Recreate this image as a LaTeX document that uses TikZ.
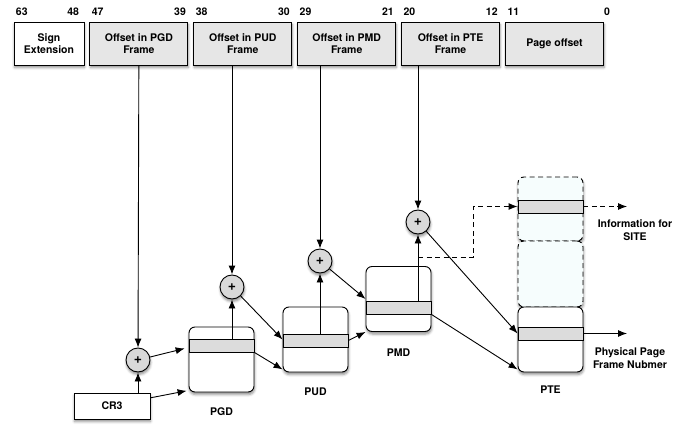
\documentclass[tikz,border=0pt]{standalone}
\usepackage{fontspec}
\setmainfont{TeX Gyre Heros}
\usetikzlibrary{arrows.meta, positioning, shadows.blur}

\definecolor{fieldgray}{HTML}{E6E6E6}
\definecolor{rowgray}{HTML}{DCDCDC}
\definecolor{addergray}{HTML}{D9D9D9}
\definecolor{sitefill}{HTML}{F6FDFD}

\begin{document}
\begin{tikzpicture}[
  x = 1pt, y = -1pt,
  line width = 0.9pt,
  >= {Latex[length = 9pt, width = 7pt]},
  font = \fontsize{10.5}{12.5}\selectfont\bfseries,
  softshadow/.style = {blur shadow = {shadow xshift = 0.5pt, shadow yshift = -2.5pt,
      shadow blur radius = 2.5pt, shadow opacity = 45}},
  field/.style = {draw, softshadow, fill = fieldgray, minimum width = 98pt,
      minimum height = 43pt, align = center, inner sep = 2pt},
  bit/.style = {inner sep = 2pt, yshift = 4pt},
  adder/.style = {draw, softshadow, circle, fill = addergray, minimum size = 24pt, inner sep = 0pt,
      font = \fontsize{14}{14}\selectfont\bfseries},
  register/.style = {draw, softshadow, fill = white, minimum width = 76pt, minimum height = 26pt},
  pagetable/.style = {draw, softshadow, rounded corners = 6pt, fill = white,
      minimum width = 65pt, minimum height = 65pt},
  siteblock/.style = {pagetable, dash pattern = on 5pt off 3.5pt, fill = sitefill},
  tablerow/.style = {draw, fill = rowgray, minimum width = 65pt, minimum height = 13pt, inner sep = 0pt},
  notelabel/.style = {align = center},
  ]

  \useasboundingbox (0, 0) rectangle (689, 428);

  % virtual address fields
  \node at (49, 43.5)
  [field, fill = white, minimum width = 70pt, name = sign] {Sign\\Extension};

  \node [field, right = 5pt of sign, name = pgdoff] {Offset in PGD\\Frame};

  \node [field, right = 5pt of pgdoff, name = pudoff] {Offset in PUD\\Frame};

  \node [field, right = 5pt of pudoff, name = pmdoff] {Offset in PMD\\Frame};

  \node [field, right = 5pt of pmdoff, name = pteoff] {Offset in PTE\\Frame};

  \node [field, right = 5pt of pteoff, name = pageoff] {Page offset};

  % bit numbers
  \node at (sign.north west) [bit, anchor = south west, name = b63] {63};
  \node at (sign.north east) [bit, anchor = south east, xshift = -3pt, name = b48] {48};
  \node at (pgdoff.north west) [bit, anchor = south west, name = b47] {47};
  \node at (pgdoff.north east) [bit, anchor = south east, name = b39] {39};
  \node at (pudoff.north west) [bit, anchor = south west, name = b38] {38};
  \node at (pudoff.north east) [bit, anchor = south east, name = b30] {30};
  \node at (pmdoff.north west) [bit, anchor = south west, name = b29] {29};
  \node at (pmdoff.north east) [bit, anchor = south east, name = b21] {21};
  \node at (pteoff.north west) [bit, anchor = south west, name = b20] {20};
  \node at (pteoff.north east) [bit, anchor = south east, name = b12] {12};
  \node at (pageoff.north west) [bit, anchor = south west, name = b11] {11};
  \node at (pageoff.north east) [bit, anchor = south, xshift = 3pt, name = b0] {0};

  % adders
  \node at (138, 360) [adder, name = add1] {+};

  \node at (232, 287) [adder, name = add2] {+};

  \node at (320, 261) [adder, name = add3] {+};

  \node at (418, 222) [adder, name = add4] {+};

  \node at (112, 406) [register, name = cr3] {CR3};

  % page tables
  \node at (221.5, 359.5) [pagetable, name = pgd] {};
  \node at ([yshift = 14pt] pgd.center) [tablerow, name = pgdrow] {};
  \node [below = 11pt of pgd, name = pgdname] {PGD};

  \node at (315.5, 339.5) [pagetable, name = pud] {};
  \node at ([yshift = -1pt] pud.center) [tablerow, name = pudrow] {};
  \node [below = 12pt of pud, name = pudname] {PUD};

  \node at (398.5, 299) [pagetable, name = pmd] {};
  \node at ([yshift = -8.5pt] pmd.center) [tablerow, name = pmdrow] {};
  \node [below = 13pt of pmd, name = pmdname] {PMD};

  \node at (550.5, 209) [siteblock, minimum height = 64pt, name = siteupper] {};
  \node at ([yshift = 2.5pt] siteupper.center) [tablerow, name = siterow] {};

  \node at (550.5, 274) [siteblock, minimum height = 66pt, name = sitelower] {};

  \node at (550.5, 339.5) [pagetable, name = pte] {};
  \node at ([yshift = 6pt] pte.center) [tablerow, name = pterow] {};
  \node [below = 10pt of pte, name = ptename] {PTE};

  % notes
  \node at (635, 230) [notelabel, name = sitenote] {Information for\\SITE};

  \node at (630, 358) [notelabel, name = ppnnote] {Physical Page\\Frame Nubmer};

  \coordinate (siteout) at (627, 206.5);
  \coordinate (ppnout) at (627, 333.5);
  \coordinate (branch) at (418, 257);
  \coordinate (bend) at (473, 257);

  % connectors
  \draw [->] (pgdoff) to (add1);

  \draw [->] (pudoff.south -| add2) to (add2);

  \draw [->] (pmdoff.south -| add3) to (add3);

  \draw [->] (pteoff.south -| add4) to (add4);

  \draw [->] (cr3.north -| add1) to (add1);

  \draw [->, shorten > = 2pt] (cr3.12) to ([yshift = 2pt] pgd.south west);

  \draw [->, shorten > = 4pt] (add1) to (pgd.160);

  \draw [->] (pgdrow.north -| add2) to (add2);

  \draw [->] (add2) to (pud.west);

  \draw [->] (pgdrow.south east) to ([yshift = 3pt] pud.south west);

  \draw [->] (pudrow.north -| add3) to (add3);

  \draw [->] (add3) to (pmd.west);

  \draw [->] (pudrow.east) to (pmd.south west);

  \draw [->] (pmdrow.north -| add4) to (add4);

  \draw [->] (add4) to (pterow.west);

  \draw [->] (pmdrow.south east) to ([yshift = 3pt] pte.south west);

  \draw [->, dash pattern = on 5pt off 3.5pt] (branch) to (bend) |- (siterow.west);

  \draw [->, dash pattern = on 5pt off 3.5pt] (siterow.east) to (siteout);

  \draw [->] (pterow.east) to (ppnout);

\end{tikzpicture}
\end{document}
